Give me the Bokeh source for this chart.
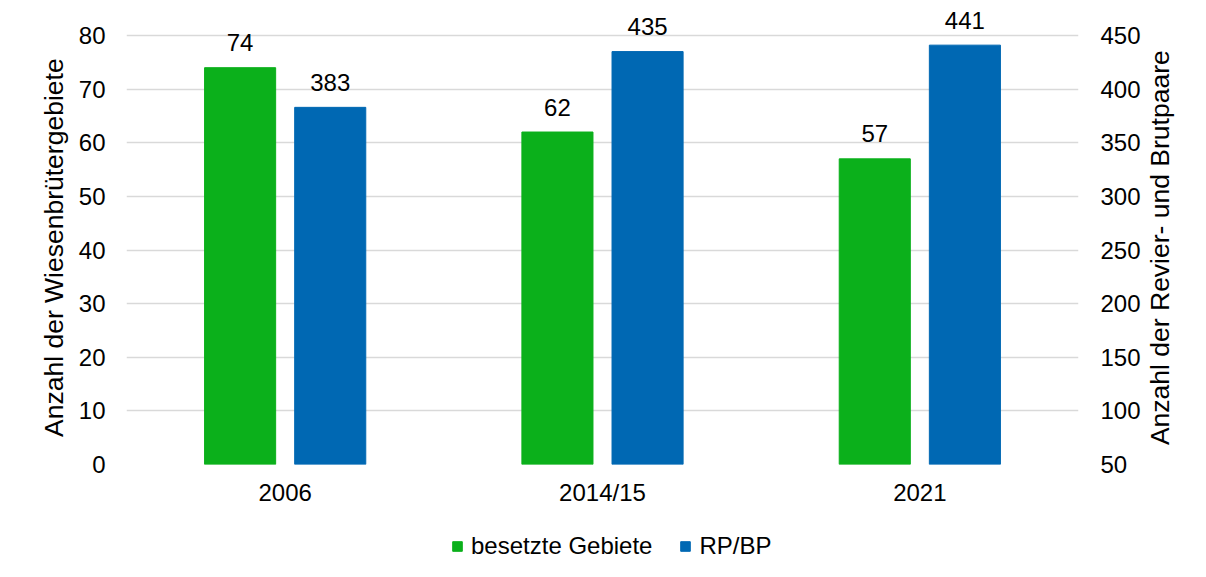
import math
from bokeh.plotting import figure
from bokeh.layouts import column, row
from bokeh.models import (ColumnDataSource, FactorRange, Range1d, LinearAxis,
                          FixedTicker, Legend, LegendItem)
from bokeh.transform import dodge
from bokeh.core.properties import value
from bokeh.embed import file_html
from bokeh.resources import INLINE

categories = ["2006", "2014/15", "2021"]
gebiete = [74, 62, 57]
paare = [383, 435, 441]
left_ticks = [0, 10, 20, 30, 40, 50, 60, 70, 80]
right_ticks = [50, 100, 150, 200, 250, 300, 350, 400, 450]
series_names = ["besetzte Gebiete", "RP/BP"]
left_title = "Anzahl der Wiesenbrütergebiete"
right_title = "Anzahl der Revier- und Brutpaare"

GREEN = "#0BB01B"
BLUE = "#0068B3"
FONT = "Liberation Sans"

# layout (pixels)
H_MAIN = 510
FRAME_TOP = 8           # top of plotting frame
GRID_TOP = 35           # y of the top gridline
GRID_BOTTOM = 464       # y of the zero line
FRAME_LEFT, FRAME_RIGHT = 126, 1078
LT_W, RT_X, TOTAL_W = 75, 1143, 1200
TITLE_DX, TITLE_DY = -3.5, 18   # empirical correction for rotated text placement
PLOT_H = GRID_BOTTOM - GRID_TOP
pad = GRID_TOP - FRAME_TOP
left_lo, left_hi = left_ticks[0], left_ticks[-1]
right_lo, right_hi = right_ticks[0], right_ticks[-1]
left_end = left_hi + pad * (left_hi - left_lo) / PLOT_H
right_end = right_hi + pad * (right_hi - right_lo) / PLOT_H
title_cy = H_MAIN - ((GRID_TOP + GRID_BOTTOM) / 2 + TITLE_DY)

src = ColumnDataSource(dict(
    cat=categories, gebiete=gebiete, paare=paare,
    glab=[str(v) for v in gebiete], plab=[str(v) for v in paare],
))

p = figure(width=RT_X - LT_W, height=H_MAIN,
           x_range=FactorRange(*categories, range_padding=0),
           y_range=Range1d(left_lo, left_end), output_backend="svg", toolbar_location=None,
           min_border_left=FRAME_LEFT - LT_W, min_border_right=RT_X - FRAME_RIGHT,
           min_border_top=FRAME_TOP, min_border_bottom=H_MAIN - GRID_BOTTOM)
p.extra_y_ranges = {"right": Range1d(right_lo, right_end)}
p.outline_line_color = None
p.background_fill_color = "white"
p.border_fill_color = "white"

p.vbar(x=dodge("cat", -0.142, range=p.x_range), top="gebiete", bottom=left_lo, width=0.224,
       source=src, color=GREEN)
p.vbar(x=dodge("cat", 0.142, range=p.x_range), top="paare", bottom=right_lo, width=0.224,
       source=src, color=BLUE, y_range_name="right")

p.text(x=dodge("cat", -0.142, range=p.x_range), y="gebiete", text="glab", source=src,
       text_align="center", text_baseline="middle", y_offset=-25,
       text_font=value(FONT), text_font_size="24px", text_color="black")
p.text(x=dodge("cat", 0.142, range=p.x_range), y="paare", text="plab", source=src,
       text_align="center", text_baseline="middle", y_offset=-25,
       text_font=value(FONT), text_font_size="24px", text_color="black",
       y_range_name="right")

p.xgrid.grid_line_color = None
p.ygrid.grid_line_color = "#D9D9D9"
p.ygrid.grid_line_width = 1.5
p.ygrid.ticker = FixedTicker(ticks=left_ticks)

ax = p.yaxis[0]
ax.ticker = FixedTicker(ticks=left_ticks)
rax = LinearAxis(y_range_name="right", ticker=FixedTicker(ticks=right_ticks))
p.add_layout(rax, "right")

for a in [ax, rax, p.xaxis[0]]:
    a.axis_line_color = None
    a.major_tick_line_color = None
    a.minor_tick_line_color = None
    a.major_tick_out = 0
    a.major_tick_in = 0
    a.minor_tick_out = 0
    a.minor_tick_in = 0
    a.major_label_text_font = FONT
    a.major_label_text_font_size = "24px"
    a.major_label_text_color = "black"
ax.major_label_standoff = 21
rax.major_label_standoff = 22
p.xaxis[0].major_label_standoff = 14


def blank(w, h):
    f = figure(width=w, height=h, x_range=Range1d(0, w), y_range=Range1d(0, h),
               output_backend="svg", toolbar_location=None,
               x_axis_location=None, y_axis_location=None,
               min_border_left=0, min_border_right=0, min_border_top=0, min_border_bottom=0)
    f.grid.visible = False
    f.outline_line_color = None
    f.background_fill_color = "white"
    f.border_fill_color = "white"
    return f


# axis titles (read bottom-to-top on both sides)
lt = blank(LT_W, H_MAIN)
lt.text(x=[57 + TITLE_DX], y=[title_cy], text=[left_title], angle=math.pi / 2,
        text_align="center", text_baseline="middle",
        text_font=value(FONT), text_font_size="26.5px", text_color="black")
rt = blank(TOTAL_W - RT_X, H_MAIN)
rt.text(x=[1163 - RT_X + TITLE_DX], y=[title_cy], text=[right_title], angle=math.pi / 2,
        text_align="center", text_baseline="middle",
        text_font=value(FONT), text_font_size="26.5px", text_color="black")

# legend strip below the chart
lg = blank(TOTAL_W, 62)
proxy = ColumnDataSource(dict(x=[float("nan")], top=[float("nan")]))
r1 = lg.vbar(x="x", top="top", width=1, source=proxy, color=GREEN)
r2 = lg.vbar(x="x", top="top", width=1, source=proxy, color=BLUE)
legend = Legend(items=[LegendItem(label=series_names[0], renderers=[r1]),
                       LegendItem(label=series_names[1], renderers=[r2])],
                orientation="horizontal", location=(451, 12),
                label_text_font=FONT, label_text_font_size="24px",
                label_text_color="black",
                glyph_width=12, glyph_height=12, label_standoff=8, spacing=27,
                border_line_color=None, background_fill_alpha=0, margin=0, padding=4)
lg.add_layout(legend)

layout = column(row(lt, p, rt, spacing=0), lg, spacing=0)
open("out.html", "w").write(file_html(layout, INLINE))
